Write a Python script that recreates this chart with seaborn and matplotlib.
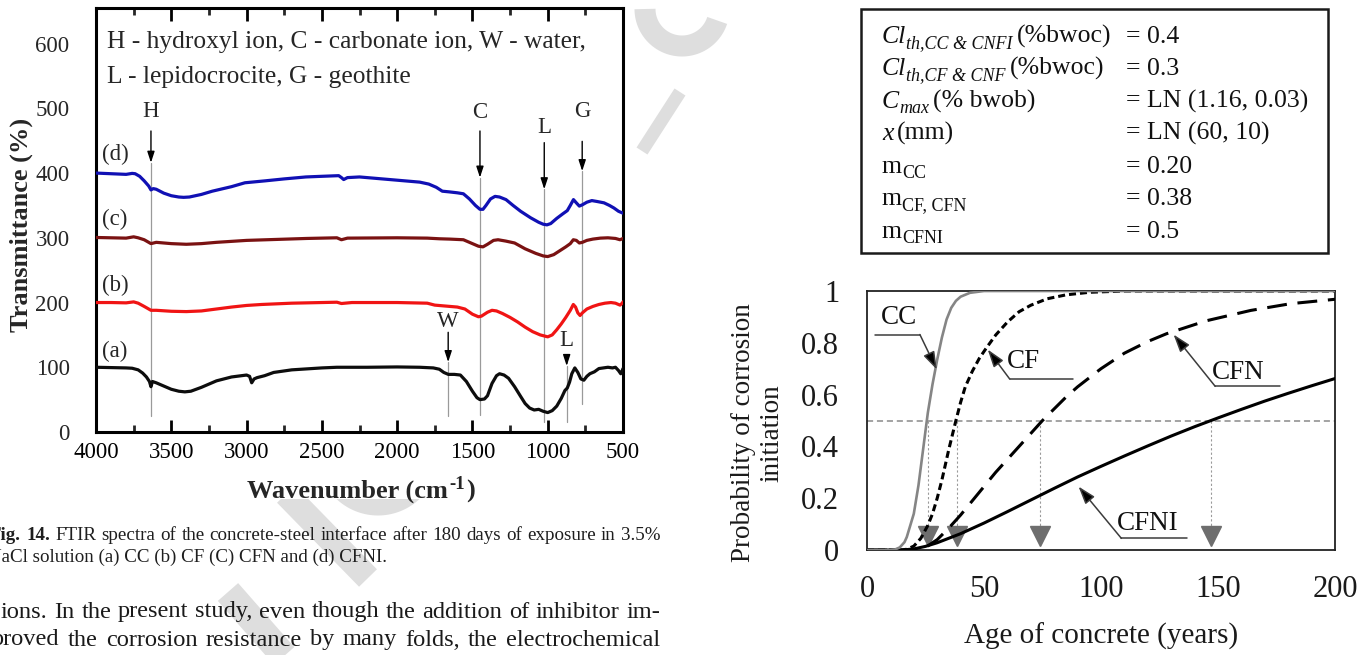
import numpy as np
import pandas as pd
import matplotlib
matplotlib.use("Agg")
import matplotlib.pyplot as plt
import seaborn as sns
from matplotlib.lines import Line2D
from matplotlib.patches import Rectangle

# ---------------- FTIR spectra (left chart) ----------------
wn_a = [4000, 3900, 3800, 3760, 3720, 3690, 3665, 3645, 3635, 3625, 3600, 3550, 3500, 3450, 3410,
        3370, 3300, 3200, 3100, 3000, 2980, 2966, 2950, 2930, 2880, 2820, 2700, 2600, 2500, 2400,
        2200, 2000, 1850, 1760, 1720, 1690, 1660, 1620, 1580, 1540, 1500, 1470, 1450, 1420, 1400,
        1370, 1340, 1320, 1290, 1260, 1220, 1180, 1150, 1120, 1090, 1060, 1030, 1000, 970, 940,
        910, 886, 870, 855, 840, 820, 800, 780, 760, 740, 720, 690, 660, 630, 600, 570, 550, 530,
        515, 505, 500]
t_a = [100, 99.5, 99, 98.5, 96, 91, 85, 78, 70, 78, 76, 71, 66, 63, 62,
       63, 69, 79, 85, 88, 86, 76, 82, 84, 87, 92, 96, 97.5, 99, 100,
       100, 100.5, 100, 99, 97, 92, 89, 89, 88, 78, 63, 53, 50, 51, 56,
       75, 87, 90, 88, 83, 70, 55, 44, 37, 34, 35, 32, 30, 33, 40,
       52, 64, 68, 77, 90, 99, 92, 82, 80, 86, 90, 93, 98, 99, 100, 99, 100, 95,
       90, 95, 98]

wn_b = [4000, 3900, 3800, 3750, 3720, 3680, 3650, 3635, 3600, 3500, 3400, 3300, 3200, 3100, 3000,
        2900, 2700, 2500, 2400, 2370, 2300, 2000, 1800, 1750, 1700, 1600, 1550, 1500, 1460, 1440,
        1400, 1370, 1340, 1300, 1250, 1200, 1150, 1100, 1050, 1000, 970, 940, 910, 880, 850, 830,
        815, 800, 785, 770, 740, 700, 660, 620, 580, 550, 520, 505, 500]
t_b = [200, 200, 199.5, 201, 199, 194, 190, 188, 188, 186.5, 186, 187, 190, 193, 195.5,
       197, 199, 200, 200.5, 198.5, 200, 200, 199, 196, 195, 193, 190, 182, 178, 179,
       185, 188, 187, 183, 177, 170, 162, 155, 150, 147, 150, 158, 167, 177, 188, 197,
       193, 184, 180, 184, 190, 194, 197, 199, 200, 199, 196, 199, 201]

wn_c = [4000, 3900, 3800, 3750, 3720, 3680, 3650, 3635, 3600, 3500, 3400, 3300, 3200, 3000, 2800,
        2600, 2400, 2370, 2330, 2000, 1800, 1720, 1650, 1560, 1500, 1460, 1430, 1400, 1360, 1330,
        1280, 1220, 1150, 1080, 1030, 1000, 960, 920, 880, 850, 830, 810, 790, 770, 740, 700, 650,
        600, 550, 520, 500]
t_c = [300.5, 300, 299.5, 301.5, 300, 297, 293, 291, 293, 291, 290, 291, 293, 296, 297.5,
       299, 300, 297, 299.5, 300, 299.5, 298.5, 298, 297, 291, 287, 286, 290, 296, 297,
       295, 292, 283, 276, 272, 271, 274, 280, 286, 291, 297, 296, 292, 293, 296, 298, 299.5,
       300, 299, 297, 299]

wn_d = [4000, 3900, 3800, 3760, 3740, 3710, 3680, 3650, 3635, 3620, 3600, 3550, 3500, 3450, 3418,
        3380, 3300, 3228, 3100, 3011, 2876, 2750, 2606, 2500, 2388, 2370, 2355, 2330, 2250, 2100,
        1950, 1850, 1790, 1740, 1700, 1656, 1600, 1560, 1520, 1480, 1450, 1430, 1410, 1380, 1350,
        1320, 1277, 1230, 1180, 1114, 1060, 1030, 1005, 980, 940, 900, 870, 850, 829, 810, 790,
        770, 740, 707, 670, 626, 590, 560, 530, 510, 500]
t_d = [400, 399, 398, 399.5, 399, 395, 388, 380, 374, 376, 375, 369, 365, 363, 362.5,
       363, 367, 372, 379, 385, 388, 391, 394, 395, 396, 393, 390, 393, 394, 391,
       388, 386, 383, 378, 372, 371, 369.5, 368, 360, 350, 344, 344, 350, 360, 364,
       363, 359, 350, 341, 331, 324, 321, 320, 322, 330, 337, 342, 350, 359, 354, 349,
       351, 355, 357.5, 356, 354, 350, 346, 341, 339, 338]

spectra_names = ["(a)", "(b)", "(c)", "(d)"]
spectra_colors = ["#0d0d0d", "#f01414", "#7a1212", "#1010b4"]
spectra_label_wn = [3874, 3874, 3874, 3874]
spectra_label_t = [125, 226, 329, 429]

# peak markers: label, wavenumber, label T, arrow tail T, arrow tip T, guide bottom T
peak_lab = ["H", "C", "L", "G", "W", "L"]
peak_wn = [3635, 1450, 1023, 771, 1661, 874]
peak_lab_t = [495, 494, 471, 495, 171, 141]
peak_tail_t = [465, 465, 447, 449, 154, 117]
peak_tip_t = [416, 393, 375, 403, 108, 102]
peak_bot_t = [24, 26, 16, 44, 24, 16]

# ---------------- corrosion probability (right chart) ----------------
age_cc = [0, 10, 12, 14, 16, 17, 18, 20, 22, 24, 26, 28, 30, 32, 34, 36, 38, 40, 44, 50, 60, 200]
p_cc = [0, 0, 0.002, 0.01, 0.03, 0.05, 0.08, 0.14, 0.25, 0.39, 0.53, 0.64, 0.735, 0.82, 0.89,
        0.935, 0.962, 0.978, 0.993, 1.0, 1.0, 1.0]
age_cf = [0, 15, 17, 20, 23, 26, 28, 30, 32, 35, 38, 40, 42, 45, 48, 51, 55, 60, 65, 70, 77, 85,
          95, 110, 200]
p_cf = [0, 0, 0.003, 0.015, 0.045, 0.095, 0.14, 0.2, 0.27, 0.39, 0.5, 0.57, 0.63, 0.69, 0.74,
        0.78, 0.83, 0.88, 0.92, 0.945, 0.97, 0.985, 0.995, 1.0, 1.0]
age_cfn = [0, 20, 25, 30, 35, 40, 45, 50, 55, 60, 65, 70, 75, 80, 85, 90, 95, 100, 110, 120, 128,
           145, 164, 181, 200]
p_cfn = [0, 0, 0.01, 0.04, 0.085, 0.135, 0.19, 0.245, 0.30, 0.35, 0.40, 0.45, 0.50, 0.545, 0.59,
         0.63, 0.665, 0.70, 0.76, 0.805, 0.835, 0.885, 0.925, 0.951, 0.968]
age_cfni = [0, 15, 20, 25, 30, 40, 50, 60, 70, 80, 90, 100, 110, 120, 130, 140, 150, 160, 170,
            180, 190, 200]
p_cfni = [0, 0, 0.004, 0.014, 0.028, 0.063, 0.104, 0.148, 0.193, 0.238, 0.282, 0.323, 0.363,
          0.402, 0.44, 0.476, 0.51, 0.543, 0.575, 0.605, 0.634, 0.662]

t50_age = [26.2, 38.3, 73.9, 147.2]

ann_names = ["CC", "CF", "CFN", "CFNI"]
ann_text = [(13.7, 0.897), (66.7, 0.729), (158.6, 0.684), (120.1, 0.103)]
ann_tip = [(29.8, 0.697), (51.6, 0.774), (131.0, 0.832), (90.4, 0.245)]
ann_elbow = [(22.6, 0.832), (61.0, 0.660), (148.8, 0.632), (108.7, 0.045)]
ann_end = [3.3, 88.0, 176.5, 136.7]

# parameter table: pieces (text, is_subscript, style)
param_left = [
    [("Cl", False, "italic"), ("th,CC & CNFI", True, "italic"), ("(%bwoc)", False, "normal")],
    [("Cl", False, "italic"), ("th,CF & CNF", True, "italic"), ("(%bwoc)", False, "normal")],
    [("C", False, "italic"), ("max", True, "italic"), ("(% bwob)", False, "normal")],
    [("x", False, "italic"), ("(mm)", False, "normal")],
    [("m", False, "normal"), ("CC", True, "normal")],
    [("m", False, "normal"), ("CF, CFN", True, "normal")],
    [("m", False, "normal"), ("CFNI", True, "normal")],
]
param_right = ["= 0.4", "= 0.3", "= LN (1.16, 0.03)", "= LN (60, 10)", "= 0.20", "= 0.38", "= 0.5"]

# ---------------- styling ----------------
sns.set_theme(style="ticks")
plt.rcParams["font.family"] = ["Liberation Serif", "DejaVu Serif"]
plt.rcParams["mathtext.fontset"] = "custom"
plt.rcParams["mathtext.rm"] = "Liberation Serif"
plt.rcParams["mathtext.it"] = "Liberation Serif:italic"
plt.rcParams["mathtext.bf"] = "Liberation Serif:bold"
plt.rcParams["axes.unicode_minus"] = False

W, H = 1370, 655
fig = plt.figure(figsize=(13.7, 6.55), dpi=100)
fig.patch.set_facecolor("white")
renderer = fig.canvas.get_renderer()


def fx(x):
    return x / W


def fy(y):
    return 1 - y / H


PX = 0.72  # points per pixel

# ---------------- watermark (behind everything) ----------------
wm = "#dedede"
clip_low = Rectangle((0, 0), 1, fy(499), transform=fig.transFigure)


def wline(xs, ys, width, clip=None):
    ln = Line2D([fx(v) for v in xs], [fy(v) for v in ys], transform=fig.transFigure,
                color=wm, lw=width * PX, solid_capstyle="butt", zorder=0)
    fig.add_artist(ln)
    if clip is not None:
        ln.set_clip_path(clip)


th = np.linspace(np.deg2rad(18), np.pi, 60)
wline(682 + 37 * np.cos(th), 9 + 37 * np.sin(th), 21)
wline([680, 642], [92, 151], 13)
th2 = np.linspace(0, np.pi, 80)
wline(378 + 52 * np.cos(th2), 455 + 52 * np.sin(th2), 17, clip_low)
wline([286, 368], [494, 578], 25, clip_low)
wline([228, 292], [592, 665], 27)

# ---------------- left chart ----------------
axL = fig.add_axes([fx(96), fy(432), (623 - 96) / W, (432 - 8) / H])
rows = []
for name, xs, ys in zip(spectra_names, [wn_a, wn_b, wn_c, wn_d], [t_a, t_b, t_c, t_d]):
    rows.append(pd.DataFrame({"wn": xs, "T": ys, "s": name}))
dfL = pd.concat(rows, ignore_index=True)
sns.lineplot(data=dfL, x="wn", y="T", hue="s", palette=dict(zip(spectra_names, spectra_colors)),
             estimator=None, sort=False, linewidth=2.3, legend=False, ax=axL, zorder=3)
axL.set_xlim(4000, 500)
axL.set_ylim(0, 655)
axL.set_xticks(np.arange(4000, 499, -500))
axL.set_xticks(np.arange(3750, 500, -500), minor=True)
axL.set_yticks(np.arange(0, 601, 100))
axL.tick_params(axis="x", which="major", direction="in", length=9, width=2, top=True,
                labelsize=16.5, pad=7, colors="black")
axL.tick_params(axis="x", which="minor", direction="in", length=5, width=2, top=True)
axL.tick_params(axis="y", which="both", left=False, labelsize=16.5, pad=13)
for sp in axL.spines.values():
    sp.set_linewidth(2.2)
    sp.set_color("black")
axL.set_xlabel("")
axL.set_ylabel("")

# x label with a raised bold "-1"
xl_parts = [("Wavenumber (cm", 19, 0), ("-1", 13.5, -9), (")", 19, 0)]
objs = []
for txt, fs, dy in xl_parts:
    objs.append((fig.text(0, fy(498 + dy), txt, fontsize=fs, fontweight="bold", ha="left",
                          va="baseline"), dy))
widths = [o.get_window_extent(renderer).width for o, _ in objs]
x = 360 - sum(widths) / 2
for (o, dy), w in zip(objs, widths):
    o.set_x(fx(x))
    x += w + 1

fig.text(fx(21), fy(225), "Transmittance (%)", fontsize=19, fontweight="bold", rotation=90,
         ha="center", va="center")
axL.text(3927, 603, "H - hydroxyl ion, C - carbonate ion, W - water,", fontsize=18.4,
         ha="left", va="center")
axL.text(3927, 549, "L - lepidocrocite, G - geothite", fontsize=18.4, ha="left", va="center")
for name, xw, yt in zip(spectra_names, spectra_label_wn, spectra_label_t):
    axL.text(xw, yt, name, fontsize=16.5, ha="center", va="center")
for lab, xw, yl, yt0, yt1, yb in zip(peak_lab, peak_wn, peak_lab_t, peak_tail_t, peak_tip_t,
                                    peak_bot_t):
    axL.text(xw, yl, lab, fontsize=16.5, ha="center", va="center")
    axL.plot([xw, xw], [yt1, yb], color="#9a9a9a", lw=0.9, zorder=2)
    axL.annotate("", xy=(xw, yt1), xytext=(xw, yt0),
                 arrowprops=dict(arrowstyle="-|>,head_length=0.55,head_width=0.18",
                                 color="black", lw=1.0, shrinkA=0, shrinkB=0))

# ---------------- right chart: parameter box ----------------
fig.add_artist(Rectangle((fx(861), fy(253)), (1328 - 861) / W, (253 - 9) / H, fill=False,
                         lw=1.8, edgecolor="#1a1a1a", transform=fig.transFigure))
row_c = [35, 67, 100, 132, 165, 197, 230]
BOX_FS = 18.5
SUB_FS = 13
for yc, pieces, tr in zip(row_c, param_left, param_right):
    base = yc + 8
    x = 882
    for i, (txt, sub, style) in enumerate(pieces):
        if i > 0 and not sub:
            x += 4
        yb = base + (5 if sub else 0)
        t = fig.text(fx(x), fy(yb), txt, fontsize=SUB_FS if sub else BOX_FS, style=style,
                     ha="left", va="baseline", color="#111")
        x += t.get_window_extent(renderer).width
    fig.text(fx(1126), fy(base), tr, fontsize=BOX_FS, ha="left", va="baseline", color="#111")

# ---------------- right chart: probability curves ----------------
axR = fig.add_axes([fx(867), fy(550), (1335 - 867) / W, (550 - 291) / H])
axR.axhline(0.5, color="#8a8a8a", lw=1.1, dashes=(4, 2.5), zorder=1)
for a in t50_age:
    axR.plot([a, a], [0.5, 0.09], color="#9a9a9a", lw=0.8, dashes=(2, 2), zorder=1)
axR.plot(t50_age, [0.055] * len(t50_age), linestyle="none", marker="v", markersize=14,
         color="#6e6e6e", zorder=2)
sns.lineplot(x=age_cfni, y=p_cfni, color="black", linewidth=2.2, ax=axR, zorder=3)
sns.lineplot(x=age_cfn, y=p_cfn, color="black", linewidth=2.2, ax=axR, zorder=3,
             dashes=(6.5, 3.5))
sns.lineplot(x=age_cf, y=p_cf, color="black", linewidth=2.2, ax=axR, zorder=3,
             dashes=(2.3, 1.3))
sns.lineplot(x=age_cc, y=p_cc, color="#858585", linewidth=1.9, ax=axR, zorder=4)
axR.set_xlim(0, 200)
axR.set_ylim(0, 1)
axR.set_xticks([0, 50, 100, 150, 200])
axR.set_yticks([0, 0.2, 0.4, 0.6, 0.8, 1.0])
axR.set_yticklabels(["0", "0.2", "0.4", "0.6", "0.8", "1"])
axR.tick_params(axis="both", length=0, labelsize=22, colors="#1a1a1a")
axR.tick_params(axis="y", pad=20)
axR.tick_params(axis="x", pad=18)
for sp in axR.spines.values():
    sp.set_linewidth(1.3)
    sp.set_color("#222")
axR.set_xlabel("")
axR.set_ylabel("")
for name, (tx, ty), tip, elb, xe in zip(ann_names, ann_text, ann_tip, ann_elbow, ann_end):
    axR.text(tx, ty, name, fontsize=19.5, ha="center", va="center", color="#111", zorder=6)
    axR.plot([elb[0], xe], [elb[1], elb[1]], color="#3c3c3c", lw=1.1, zorder=5)
    axR.annotate("", xy=tip, xytext=elb,
                 arrowprops=dict(arrowstyle="-|>,head_length=0.9,head_width=0.3",
                                 fc="black", ec="#3c3c3c", lw=1.1, shrinkA=0, shrinkB=0),
                 zorder=5)
fig.text(fx(758), fy(433), "Probability of corrosion\ninitiation", rotation=90, fontsize=19.5,
         ha="center", va="center", linespacing=1.2, color="#1a1a1a")
fig.text(fx(1101), fy(636), "Age of concrete (years)", fontsize=21, ha="center", va="center",
         color="#1a1a1a")

# ---------------- caption and body text ----------------


def fit_size(text, target, family, weight="normal"):
    t = fig.text(0, 0, text, fontsize=10, family=family, fontweight=weight)
    w = t.get_window_extent(renderer).width
    t.remove()
    return 10 * target / w


def justify(words, x0, x1, yc, size, family, weights=None, color="#1e1e1e"):
    objs = []
    for i, w in enumerate(words):
        wt = weights[i] if weights else "normal"
        objs.append(fig.text(0, fy(yc), w, fontsize=size, family=family, fontweight=wt,
                             va="center", ha="left", color=color))
    widths = [t.get_window_extent(renderer).width for t in objs]
    gap = (x1 - x0 - sum(widths)) / (len(words) - 1)
    x = x0
    for t, w in zip(objs, widths):
        t.set_x(fx(x))
        x += w + gap


cap1_str = "Fig. 14. FTIR spectra of the concrete-steel interface after 180 days of exposure in 3.5%"
cap_fs = fit_size(cap1_str, 665, ["Liberation Serif"])
cap1 = cap1_str.split()
justify(cap1, -10, 660, 536, cap_fs, ["Liberation Serif"],
        weights=["bold", "bold"] + ["normal"] * (len(cap1) - 2))
fig.text(fx(-12), fy(557), "NaCl solution (a) CC (b) CF (C) CFN and (d) CFNI.", fontsize=cap_fs,
         va="center", ha="left", color="#1e1e1e")
body1_str = "ions. In the present study, even though the addition of inhibitor im-"
body_fs = fit_size(body1_str, 655, ["Liberation Serif"])
body2 = "proved the corrosion resistance by many folds, the electrochemical".split()
justify(body1_str.split(), 1, 660, 612, body_fs, ["Liberation Serif"], color="#1a1a1a")
justify(body2, -8, 660, 640, body_fs, ["Liberation Serif"], color="#1a1a1a")

fig.savefig("out.png", dpi=100, facecolor="white")
